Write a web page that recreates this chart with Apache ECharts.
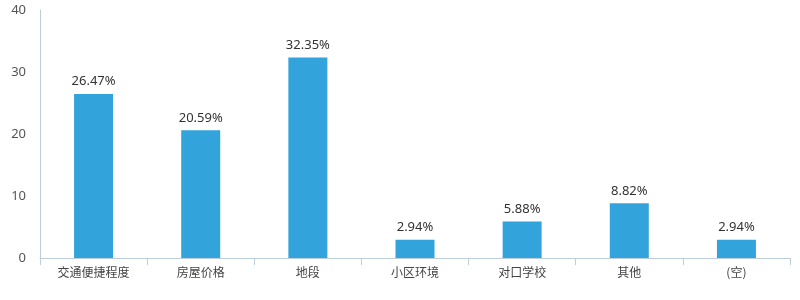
<!DOCTYPE html>
<html><head><meta charset="utf-8">
<script src="https://cdn.jsdelivr.net/npm/echarts@6/dist/echarts.min.js"></script>
<style>html,body{margin:0;padding:0;background:#fff}#c{width:800px;height:300px}</style>
</head><body><div id="c"></div>
<script>
const categories = ['交通便捷程度','房屋价格','地段','小区环境','对口学校','其他','(空)'];
const values = [26.47, 20.59, 32.35, 2.94, 5.88, 8.82, 2.94];
const yTicks = {min: 0, max: 40, interval: 10};

const chart = echarts.init(document.getElementById('c'));
chart.setOption({
  animation: false,
  grid: {left: 40, right: 10, top: 10, bottom: 42, containLabel: false},
  xAxis: {
    type: 'category', data: categories,
    axisLine: {lineStyle: {color: '#bccddc'}},
    axisTick: {show: true, length: 7, lineStyle: {color: '#bccddc'}},
    axisLabel: {color: '#444', fontSize: 12, fontFamily: 'Noto Sans CJK SC', margin: 8}
  },
  yAxis: {
    type: 'value', min: yTicks.min, max: yTicks.max, interval: yTicks.interval,
    axisLine: {show: true, lineStyle: {color: '#bccddc'}},
    axisTick: {show: false},
    splitLine: {show: false},
    axisLabel: {color: '#555', fontSize: 13, fontFamily: 'Noto Sans', margin: 14}
  },
  series: [{
    type: 'bar', data: values, barWidth: 39,
    itemStyle: {color: '#33a3dc'},
    label: {show: true, position: 'top', distance: 6, color: '#333', fontSize: 13, fontFamily: 'Noto Sans',
      formatter: p => p.value.toFixed(2) + '%'}
  }]
});
</script></body></html>
